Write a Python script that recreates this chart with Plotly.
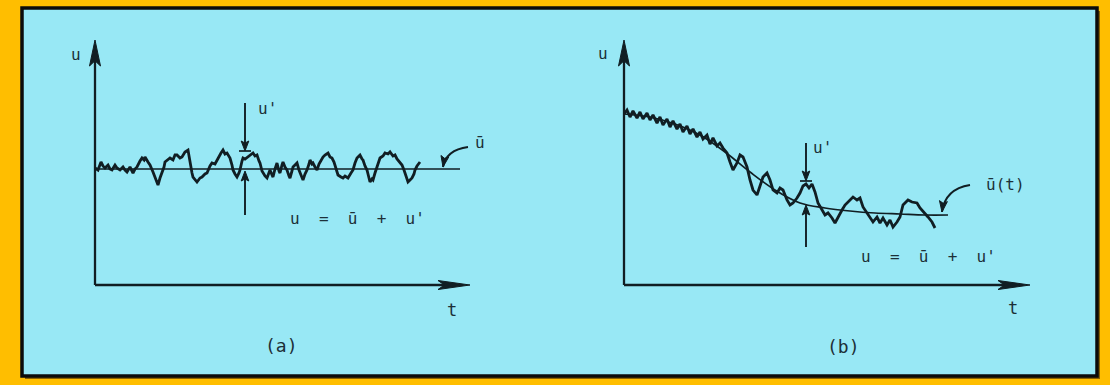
import math
import plotly.graph_objects as go

W, H = 1110, 385

# ---------------- data ----------------
# (a) statistically steady signal: time t and velocity u
t_a = [0, 3, 6, 8, 10, 13, 15, 17, 20, 22, 25, 28, 30, 32, 35, 38, 40, 42, 45, 47,
       49, 50, 53, 55, 58, 60, 62, 63, 65, 67, 69, 70, 73, 75, 78, 80, 82, 85, 87,
       90, 93, 95, 97, 98, 100, 102, 105, 107, 110, 112, 115, 117, 120, 122, 124,
       126, 128, 130, 132, 134, 135, 137, 138, 140, 142, 144, 145, 147, 148, 150,
       153, 156, 158, 160, 162, 164, 165, 167, 168, 170, 172, 174, 175, 177, 178,
       180, 182, 184, 185, 187, 188, 190, 192, 194, 195, 197, 198, 200, 202, 204,
       205, 207, 208, 210, 212, 214, 215, 217, 218, 220, 222, 224, 225, 227, 228,
       230, 233, 235, 237, 239, 240, 242, 243, 246, 248, 250, 253, 256, 258, 260,
       262, 264, 265, 267, 268, 270, 272, 274, 275, 277, 278, 280, 282, 284, 285,
       288, 290, 293, 295, 298, 300, 302, 303, 305, 307, 309, 310, 312, 313, 315,
       317, 319, 320, 322, 325]
u_a = [117, 115, 123, 119, 117, 120, 116, 115, 120, 117, 115, 118, 115, 113, 118,
       112, 116, 118, 124, 127, 125, 128, 123, 120, 113, 108, 104, 100, 107, 112,
       118, 123, 125, 127, 125, 130, 130, 127, 128, 133, 135, 122, 112, 108, 106,
       103, 107, 108, 111, 112, 119, 122, 121, 125, 129, 132, 135, 131, 132, 128,
       127, 120, 115, 111, 108, 112, 115, 124, 127, 126, 128, 130, 132, 129, 130,
       124, 122, 114, 112, 109, 107, 112, 115, 110, 108, 116, 122, 114, 112, 120,
       123, 118, 115, 109, 107, 114, 118, 120, 122, 115, 112, 107, 105, 111, 115,
       121, 125, 121, 122, 118, 115, 121, 123, 126, 128, 130, 132, 128, 127, 123,
       120, 113, 110, 108, 107, 109, 107, 112, 115, 122, 127, 129, 130, 126, 125,
       119, 115, 107, 103, 106, 105, 112, 118, 124, 127, 129, 132, 131, 133, 129,
       130, 126, 125, 122, 120, 115, 112, 106, 103, 105, 107, 111, 115, 119, 123]
ubar_a = 116            # constant mean
ubar_a_end = 365        # extent of the mean line

# (b) signal with a slowly varying mean
t_b = [0, 3, 6, 9, 13, 16, 19, 23, 26, 29, 33, 36, 39, 43, 46, 49, 53, 56, 59, 63,
       66, 69, 73, 76, 79, 83, 86, 89, 93, 96, 99, 103, 106, 109, 113, 116, 119,
       123, 126, 129, 133, 136, 139, 143, 146, 149, 153, 156, 159, 163, 166, 169,
       173, 176, 179, 182, 185, 188, 191, 194, 198, 201, 204, 208, 211, 214, 218,
       221, 226, 229, 233, 236, 239, 243, 246, 249, 253, 256, 259, 263, 266, 269,
       273, 276, 279, 284, 288, 293, 296, 301, 304, 308, 311]
u_b = [171, 175, 168, 174, 167, 173, 166, 172, 165, 170, 162, 168, 160, 166, 158,
       164, 156, 161, 153, 159, 151, 156, 148, 153, 146, 150, 141, 147, 139, 142,
       137, 132, 123, 115, 122, 130, 128, 118, 105, 95, 90, 98, 108, 112, 105, 95,
       92, 97, 95, 85, 80, 82, 87, 92, 99, 101, 97, 101, 93, 82, 75, 70, 72, 67,
       62, 68, 75, 80, 85, 88, 85, 87, 78, 72, 67, 63, 68, 62, 67, 60, 65, 58, 63,
       68, 80, 85, 83, 82, 77, 72, 68, 63, 57]
t_bmean = [0, 26, 51, 76, 101, 126, 151, 176, 201, 226, 251, 276, 301, 324]
u_bmean = [171, 168, 161, 150, 133, 113, 95, 82, 77, 74, 72, 71, 70, 70]

# axis extents (arrow tips) and fluctuation markers
t_tip_a, t_tip_b, u_tip = 375, 406, 245
mark_a = dict(t=150, top_from=182, top_to=134, bot_from=70, bot_to=114)
mark_b = dict(t=182, top_from=142, top_to=104, bot_from=38, bot_to=80)

# ---------------- styling ----------------
ORANGE = "#FFBE00"
CYAN = "#98E8F5"
INK = "#111e23"
TEXT = "#1d3038"
FONT = "DejaVu Sans Mono"

fig = go.Figure()

fig.add_trace(go.Scatter(x=[0, ubar_a_end], y=[ubar_a, ubar_a], mode="lines",
                         line=dict(color=INK, width=1.7), xaxis="x", yaxis="y",
                         hoverinfo="skip"))
fig.add_trace(go.Scatter(x=t_a, y=u_a, mode="lines",
                         line=dict(color=INK, width=2.8), xaxis="x", yaxis="y"))
fig.add_trace(go.Scatter(x=t_bmean, y=u_bmean, mode="lines", line_shape="spline",
                         line=dict(color=INK, width=1.7), xaxis="x2", yaxis="y2",
                         hoverinfo="skip"))
fig.add_trace(go.Scatter(x=t_b, y=u_b, mode="lines",
                         line=dict(color=INK, width=2.8), xaxis="x2", yaxis="y2"))

shapes = []


def px2paper(px, py):
    return px / W, 1 - py / H


# orange page, shadow, framed cyan panel
x0, y1 = px2paper(25, 11)
x1, y0 = px2paper(1100, 379)
shapes.append(dict(type="rect", xref="paper", yref="paper", x0=x0, x1=x1, y0=y0, y1=y1,
                   fillcolor="#8a6200", line=dict(width=0), layer="below"))
x0, y1 = px2paper(22, 8)
x1, y0 = px2paper(1097, 376)
shapes.append(dict(type="rect", xref="paper", yref="paper", x0=x0, x1=x1, y0=y0, y1=y1,
                   fillcolor=CYAN, line=dict(color="#0b0b0b", width=3.5), layer="below"))


def head(xr, yr, tip_x, tip_y, dx, dy, length, half):
    """Notched filled arrowhead with tip at (tip_x, tip_y) pointing along (dx, dy)."""
    n = math.hypot(dx, dy)
    dx, dy = dx / n, dy / n
    px_, py_ = -dy, dx
    bx, by = tip_x - dx * length, tip_y - dy * length
    nx, ny = tip_x - dx * length * 0.8, tip_y - dy * length * 0.8
    path = (f"M{tip_x},{tip_y} L{bx + px_ * half},{by + py_ * half} "
            f"L{nx},{ny} L{bx - px_ * half},{by - py_ * half} Z")
    return dict(type="path", xref=xr, yref=yr, path=path, fillcolor=INK,
                line=dict(color=INK, width=1))


def seg(xr, yr, xa, ya, xb, yb, w):
    return dict(type="line", xref=xr, yref=yr, x0=xa, y0=ya, x1=xb, y1=yb,
                line=dict(color=INK, width=w))


def axes(xr, yr, t_tip):
    return [seg(xr, yr, 0, 0, 0, u_tip - 20, 2.3),
            head(xr, yr, 0, u_tip, 0, 1, 26, 5.5),
            seg(xr, yr, 0, 0, t_tip - 25, 0, 2.3),
            head(xr, yr, t_tip, 0, 1, 0, 32, 4.5)]


def fluct(xr, yr, m):
    t = m["t"]
    return [seg(xr, yr, t, m["top_from"], t, m["top_to"] + 7, 1.9),
            head(xr, yr, t, m["top_to"], 0, -1, 10, 3.8),
            seg(xr, yr, t - 6, m["top_to"], t + 6, m["top_to"], 1.7),
            seg(xr, yr, t, m["bot_from"], t, m["bot_to"] - 7, 1.9),
            head(xr, yr, t, m["bot_to"], 0, 1, 10, 3.8)]


def curved(xr, yr, sx, sy, cx, cy, ex, ey):
    return [dict(type="path", xref=xr, yref=yr, path=f"M{sx},{sy} Q{cx},{cy} {ex},{ey}",
                 line=dict(color=INK, width=1.9)),
            head(xr, yr, ex, ey, ex - cx, ey - cy, 11, 4)]


shapes += axes("x", "y", t_tip_a) + axes("x2", "y2", t_tip_b)
shapes += fluct("x", "y", mark_a) + fluct("x2", "y2", mark_b)
shapes += curved("x", "y", 373, 138, 351, 135, 348, 118)
shapes += curved("x2", "y2", 346, 100, 321, 96, 318, 73)


def label(text, x, y, xr, yr, size=16, xanchor="center"):
    return dict(text=text, x=x, y=y, xref=xr, yref=yr, showarrow=False,
                xanchor=xanchor, yanchor="middle",
                font=dict(family=FONT, size=size, color=TEXT))


annotations = [
    label("u", -19, 231, "x", "y"),
    label("t", 357, -25, "x", "y", size=17),
    label("u'", 161, 177, "x", "y", xanchor="left"),
    label("ū", 385, 143, "x", "y"),
    label("u  =  ū  +  u'", 262, 67, "x", "y"),
    label("u", -21, 232, "x2", "y2"),
    label("t", 389, -23, "x2", "y2", size=17),
    label("u'", 187, 138, "x2", "y2", xanchor="left"),
    label("ū(t)", 381, 101, "x2", "y2"),
    label("u  =  ū  +  u'", 304, 29, "x2", "y2"),
    label("(a)", 281 / W, 1 - 345 / H, "paper", "paper", size=18),
    label("(b)", 843 / W, 1 - 346 / H, "paper", "paper", size=18),
]

hidden = dict(showgrid=False, zeroline=False, showticklabels=False, showline=False,
              ticks="", fixedrange=True)

fig.update_layout(
    width=W, height=H,
    margin=dict(l=0, r=0, t=0, b=0),
    paper_bgcolor=ORANGE,
    plot_bgcolor="rgba(0,0,0,0)",
    showlegend=False,
    shapes=shapes,
    annotations=annotations,
    xaxis=dict(domain=[40 / W, 560 / W], range=[-55, 465], **hidden),
    yaxis=dict(domain=[1 - 340 / H, 1 - 10 / H], range=[-55, 275], **hidden),
    xaxis2=dict(domain=[580 / W, 1090 / W], range=[-44, 466], **hidden),
    yaxis2=dict(domain=[1 - 340 / H, 1 - 10 / H], range=[-55, 275], **hidden),
)

fig.write_html("out.html")
